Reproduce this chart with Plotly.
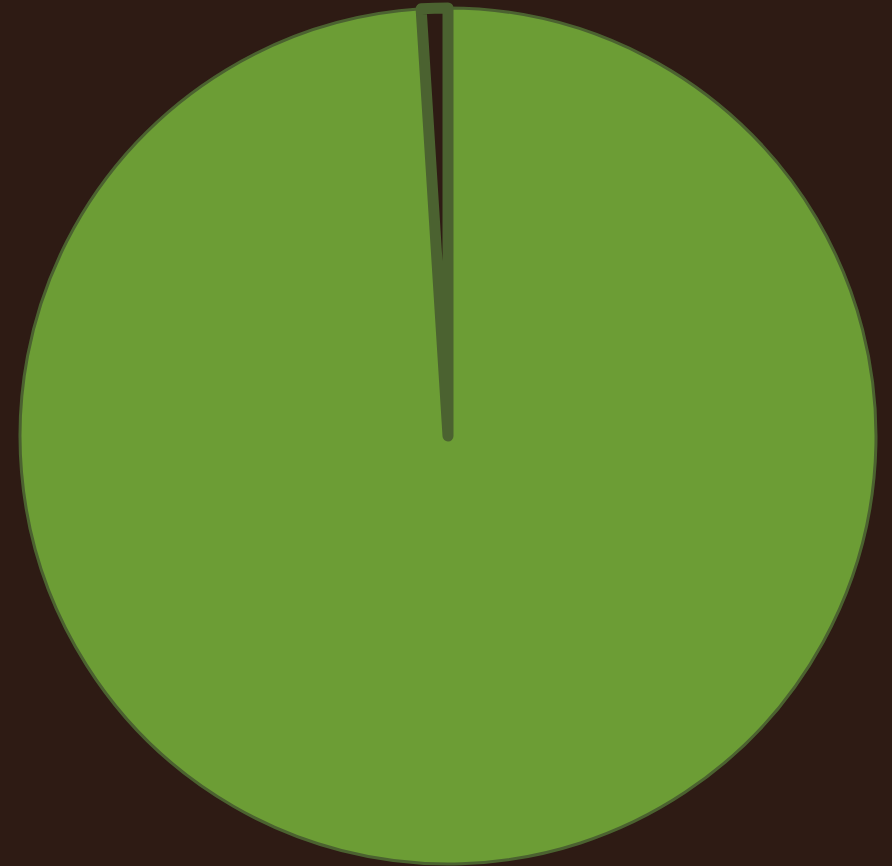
import plotly.graph_objects as go

labels = ["Main", "Minor"]
values = [99, 1]
fill_colors = ["#6c9d35", "rgba(0,0,0,0)"]
line_widths = [3, 11]

W, H = 892, 866
fig = go.Figure(go.Pie(
    labels=labels,
    values=values,
    sort=False,
    direction="clockwise",
    rotation=0,
    textinfo="none",
    marker=dict(colors=fill_colors, line=dict(color="#4b6230", width=line_widths)),
    domain=dict(x=[20 / W, 876 / W], y=[1 - 864 / H, 1 - 8 / H]),
    showlegend=False,
))
fig.update_layout(
    width=W, height=H,
    margin=dict(l=0, r=0, t=0, b=0),
    paper_bgcolor="#2e1b14",
    plot_bgcolor="#2e1b14",
)
fig.write_html(
    "out.html",
    config={"displayModeBar": False},
    post_script="document.body.style.margin='0';document.body.style.background='#2e1b14';",
)
